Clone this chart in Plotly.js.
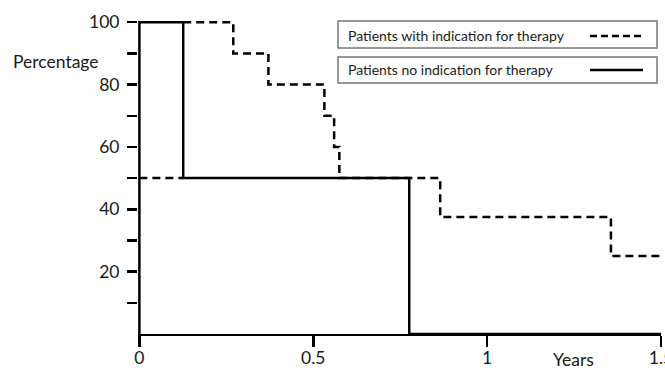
<!DOCTYPE html>
<html>
<head>
<meta charset="utf-8">
<script src="https://cdn.plot.ly/plotly-3.0.1.min.js"></script>
<style>html,body{margin:0;padding:0;background:#fff;}#chart{width:665px;height:370px;}</style>
</head>
<body>
<div id="chart"></div>
<script>
// Data (years, percentage)
const withTherapyStartX = [0, 0.126];
const withTherapyStartY = [50, 50];
const withTherapyX = [0.126, 0.27, 0.371, 0.532, 0.56, 0.575, 0.865, 1.356, 1.52];
const withTherapyY = [100, 90, 80, 70, 60, 50, 37.5, 25, 25];
const noTherapyX = [0, 0, 0.126, 0.776, 1.52];
const noTherapyY = [0, 100, 50, 0, 0];
const xTickVals = [0, 0.5, 1, 1.5];
const xTickText = ['0', '0.5', '1', '1.5'];
const yTickVals = [10, 20, 30, 40, 50, 60, 70, 80, 90, 100];
const yTickText = ['', '20', '', '40', '', '60', '', '80', '', '100'];
const legendLabels = ['Patients with indication for therapy', 'Patients no indication for therapy'];

const L = 138, T = 16, R = 4, B = 36;
const W = 665 - L - R, H = 370 - T - B;
const px = x => (x - L) / W;
const py = y => (T + H - y) / H;

const FONT = 'Lato, "Open Sans", sans-serif';
const TXT = '#1a1a1a';

const dashStyle = {color: '#000', width: 2.5, dash: '8px,5px', shape: 'hv'};
const traces = [
  {x: withTherapyStartX, y: withTherapyStartY, mode: 'lines', line: dashStyle, hoverinfo: 'skip', showlegend: false},
  {x: withTherapyX, y: withTherapyY, mode: 'lines', line: dashStyle, name: legendLabels[0], showlegend: false},
  {x: noTherapyX, y: noTherapyY, mode: 'lines', line: {color: '#000', width: 2.5, shape: 'hv'}, name: legendLabels[1], showlegend: false}
];

const shapes = [
  {type: 'rect', xref: 'paper', yref: 'paper', x0: px(338), x1: px(657), y0: py(48), y1: py(21), line: {color: '#777', width: 1.5}, fillcolor: 'rgba(0,0,0,0)'},
  {type: 'rect', xref: 'paper', yref: 'paper', x0: px(338), x1: px(657), y0: py(83), y1: py(57), line: {color: '#777', width: 1.5}, fillcolor: 'rgba(0,0,0,0)'},
  {type: 'line', xref: 'paper', yref: 'paper', x0: px(590), x1: px(643), y0: py(36), y1: py(36), line: {color: '#000', width: 2.5, dash: '7px,4px'}},
  {type: 'line', xref: 'paper', yref: 'paper', x0: px(590), x1: px(643), y0: py(70), y1: py(70), line: {color: '#000', width: 2.5}}
];

const annotations = [
  {xref: 'paper', yref: 'paper', x: px(346), y: py(35), xanchor: 'left', yanchor: 'middle', text: legendLabels[0], showarrow: false, font: {family: FONT, size: 14, color: TXT}},
  {xref: 'paper', yref: 'paper', x: px(346), y: py(70), xanchor: 'left', yanchor: 'middle', text: legendLabels[1], showarrow: false, font: {family: FONT, size: 14, color: TXT}},
  {xref: 'paper', yref: 'paper', x: px(56), y: py(62), xanchor: 'center', yanchor: 'middle', text: 'Percentage', showarrow: false, font: {family: FONT, size: 17.5, color: TXT}},
  {xref: 'paper', yref: 'paper', x: px(573), y: py(359), xanchor: 'center', yanchor: 'middle', text: 'Years', showarrow: false, font: {family: FONT, size: 17.5, color: TXT}}
];

const layout = {
  width: 665, height: 370,
  margin: {l: L, r: R, t: T, b: B, pad: 0},
  paper_bgcolor: '#fff', plot_bgcolor: '#fff',
  showlegend: false,
  xaxis: {
    range: [-0.004, 1.5], showgrid: false, zeroline: false,
    showline: true, linecolor: '#000', linewidth: 2,
    ticks: 'outside', ticklen: 11, tickwidth: 2.5, tickcolor: '#000',
    tickmode: 'array', tickvals: xTickVals, ticktext: xTickText,
    ticklabeloverflow: 'allow', ticklabelstandoff: -4,
    tickfont: {family: FONT, size: 17.5, color: TXT}, fixedrange: true
  },
  yaxis: {
    range: [0, 102], showgrid: false, zeroline: false,
    showline: false,
    ticks: 'outside', ticklen: 10, tickwidth: 2.5, tickcolor: '#000',
    tickmode: 'array', tickvals: yTickVals, ticktext: yTickText,
    tickfont: {family: FONT, size: 17.5, color: TXT}, ticklabelstandoff: 4, fixedrange: true
  },
  shapes: shapes,
  annotations: annotations
};

Plotly.newPlot('chart', traces, layout, {displayModeBar: false, staticPlot: true});
</script>
</body>
</html>
